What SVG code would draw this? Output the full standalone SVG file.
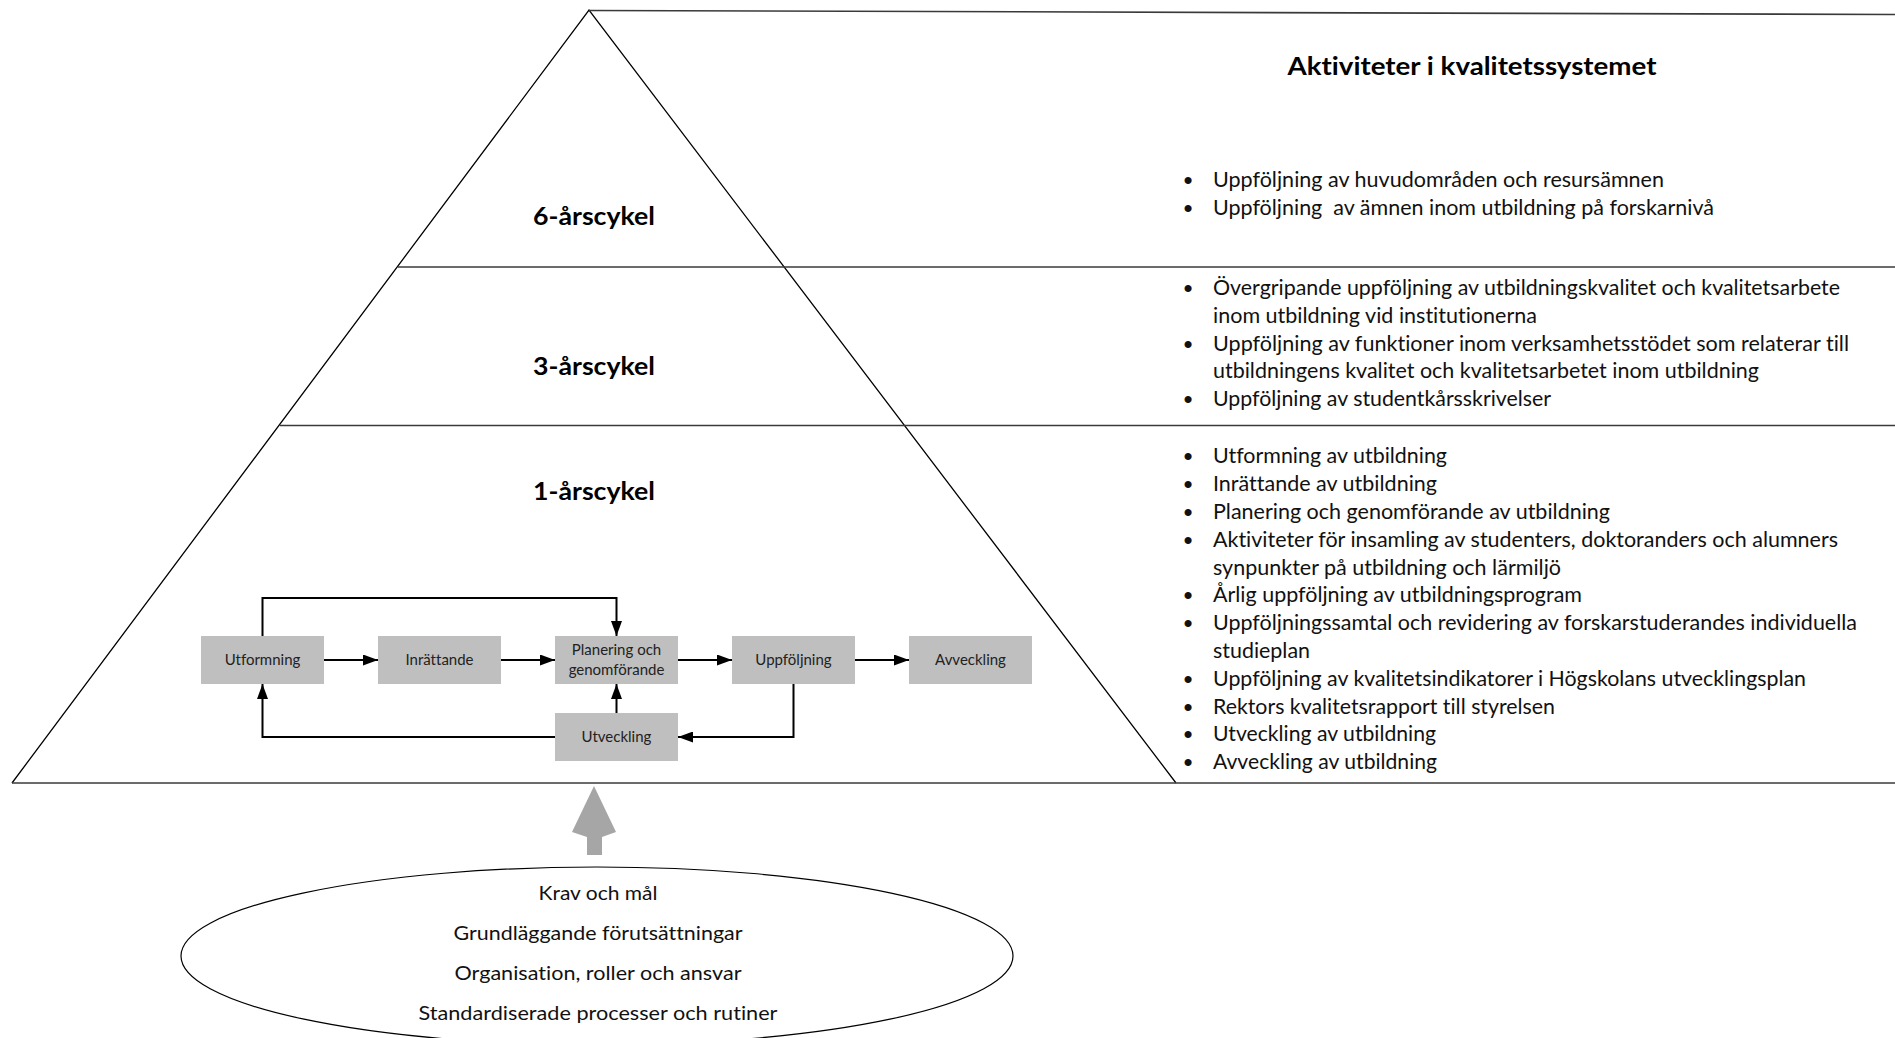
<svg xmlns="http://www.w3.org/2000/svg" width="1895" height="1038" viewBox="0 0 1895 1038">
<style>
  text { font-variant-ligatures: none; font-feature-settings: "liga" 0, "clig" 0; }
  .edge { fill: none; stroke: #000; stroke-width: 1.3; }
  .rule { fill: none; stroke: #3a3a3a; stroke-width: 1.6; }
  .lvl { font-family: Lato, "Liberation Sans", sans-serif; font-weight: bold; font-size: 25px; fill: #000; text-anchor: middle; }
  .li { font-family: Lato, "Liberation Sans", sans-serif; font-size: 20.5px; fill: #111; }
  .bul { font-family: "Liberation Sans", sans-serif; font-size: 26px; fill: #111; text-anchor: middle; }
  .box { fill: #bfbfbf; }
  .bl { font-family: Lato, "Liberation Sans", sans-serif; font-size: 15px; fill: #222; text-anchor: middle; }
  .conn { fill: none; stroke: #000; stroke-width: 2; }
  .ell { font-family: Lato, "Liberation Sans", sans-serif; font-size: 19px; fill: #111; text-anchor: middle; }
</style>
<defs>
  <marker id="ah" markerUnits="userSpaceOnUse" markerWidth="15" markerHeight="11" refX="15" refY="5.5" orient="auto">
    <path d="M0,0 L15,5.5 L0,11 z" fill="#000"/>
  </marker>
</defs>
<rect x="0" y="0" width="1895" height="1038" fill="#fff"/>

<g id="pyramid-frame">
  <polyline class="edge" points="12,783 589,10 1176,783"/>
  <line class="rule" x1="589" y1="10.5" x2="1895" y2="14.5"/>
  <line class="rule" x1="398" y1="267" x2="1895" y2="267"/>
  <line class="rule" x1="280" y1="425.5" x2="1895" y2="425.5"/>
  <line class="rule" x1="12" y1="783" x2="1895" y2="783"/>
</g>

<g id="title">
  <text class="lvl" x="1472" y="75" textLength="369" lengthAdjust="spacingAndGlyphs">Aktiviteter i kvalitetssystemet</text>
</g>

<g id="level-6">
  <text class="lvl" x="594" y="225" textLength="122" lengthAdjust="spacingAndGlyphs">6-årscykel</text>
  <text class="bul" x="1188" y="189">•</text>
  <text class="li" x="1213" y="187" textLength="451" lengthAdjust="spacingAndGlyphs">Uppföljning av huvudområden och resursämnen</text>
  <text class="bul" x="1188" y="217">•</text>
  <text class="li" x="1213" y="215" xml:space="preserve" textLength="501" lengthAdjust="spacingAndGlyphs">Uppföljning  av ämnen inom utbildning på forskarnivå</text>
</g>

<g id="level-3">
  <text class="lvl" x="594" y="375" textLength="122" lengthAdjust="spacingAndGlyphs">3-årscykel</text>
  <text class="bul" x="1188" y="297">•</text>
  <text class="li" x="1213" y="295" textLength="627" lengthAdjust="spacingAndGlyphs">Övergripande uppföljning av utbildningskvalitet och kvalitetsarbete</text>
  <text class="li" x="1213" y="322.8" textLength="324" lengthAdjust="spacingAndGlyphs">inom utbildning vid institutionerna</text>
  <text class="bul" x="1188" y="352.6">•</text>
  <text class="li" x="1213" y="350.6" textLength="636" lengthAdjust="spacingAndGlyphs">Uppföljning av funktioner inom verksamhetsstödet som relaterar till</text>
  <text class="li" x="1213" y="378.4" textLength="546" lengthAdjust="spacingAndGlyphs">utbildningens kvalitet och kvalitetsarbetet inom utbildning</text>
  <text class="bul" x="1188" y="408.2">•</text>
  <text class="li" x="1213" y="406.2" textLength="338" lengthAdjust="spacingAndGlyphs">Uppföljning av studentkårsskrivelser</text>
</g>

<g id="level-1">
  <text class="lvl" x="594" y="500" textLength="122" lengthAdjust="spacingAndGlyphs">1-årscykel</text>
  <text class="bul" x="1188" y="465.3">•</text>
  <text class="li" x="1213" y="463.3" textLength="234" lengthAdjust="spacingAndGlyphs">Utformning av utbildning</text>
  <text class="bul" x="1188" y="493.1">•</text>
  <text class="li" x="1213" y="491.1" textLength="224" lengthAdjust="spacingAndGlyphs">Inrättande av utbildning</text>
  <text class="bul" x="1188" y="520.9">•</text>
  <text class="li" x="1213" y="518.9" textLength="397" lengthAdjust="spacingAndGlyphs">Planering och genomförande av utbildning</text>
  <text class="bul" x="1188" y="548.7">•</text>
  <text class="li" x="1213" y="546.7" textLength="625" lengthAdjust="spacingAndGlyphs">Aktiviteter för insamling av studenters, doktoranders och alumners</text>
  <text class="li" x="1213" y="574.5" textLength="348" lengthAdjust="spacingAndGlyphs">synpunkter på utbildning och lärmiljö</text>
  <text class="bul" x="1188" y="604.3">•</text>
  <text class="li" x="1213" y="602.3" textLength="369" lengthAdjust="spacingAndGlyphs">Årlig uppföljning av utbildningsprogram</text>
  <text class="bul" x="1188" y="632.1">•</text>
  <text class="li" x="1213" y="630.1" textLength="644" lengthAdjust="spacingAndGlyphs">Uppföljningssamtal och revidering av forskarstuderandes individuella</text>
  <text class="li" x="1213" y="657.9" textLength="97" lengthAdjust="spacingAndGlyphs">studieplan</text>
  <text class="bul" x="1188" y="687.7">•</text>
  <text class="li" x="1213" y="685.7" textLength="593" lengthAdjust="spacingAndGlyphs">Uppföljning av kvalitetsindikatorer i Högskolans utvecklingsplan</text>
  <text class="bul" x="1188" y="715.5">•</text>
  <text class="li" x="1213" y="713.5" textLength="342" lengthAdjust="spacingAndGlyphs">Rektors kvalitetsrapport till styrelsen</text>
  <text class="bul" x="1188" y="743.3">•</text>
  <text class="li" x="1213" y="741.3" textLength="223" lengthAdjust="spacingAndGlyphs">Utveckling av utbildning</text>
  <text class="bul" x="1188" y="771.1">•</text>
  <text class="li" x="1213" y="769.1" textLength="224" lengthAdjust="spacingAndGlyphs">Avveckling av utbildning</text>
</g>

<g id="connectors">
  <line class="conn" x1="324" y1="660" x2="378" y2="660" marker-end="url(#ah)"/>
  <line class="conn" x1="501" y1="660" x2="555" y2="660" marker-end="url(#ah)"/>
  <line class="conn" x1="678" y1="660" x2="732" y2="660" marker-end="url(#ah)"/>
  <line class="conn" x1="855" y1="660" x2="909" y2="660" marker-end="url(#ah)"/>
  <path class="conn" d="M262.5,636 V598 H616.5 V636" marker-end="url(#ah)"/>
  <path class="conn" d="M616.5,713 V684" marker-end="url(#ah)"/>
  <path class="conn" d="M793.5,684 V737 H678" marker-end="url(#ah)"/>
  <path class="conn" d="M555,737 H262.5 V684" marker-end="url(#ah)"/>
</g>

<g id="node-utformning">
  <rect class="box" x="201" y="636" width="123" height="48"/>
  <text class="bl" x="262.5" y="665">Utformning</text>
</g>
<g id="node-inrattande">
  <rect class="box" x="378" y="636" width="123" height="48"/>
  <text class="bl" x="439.5" y="665">Inrättande</text>
</g>
<g id="node-planering">
  <rect class="box" x="555" y="636" width="123" height="48"/>
  <text class="bl" x="616.5" y="655">Planering och</text>
  <text class="bl" x="616.5" y="675">genomförande</text>
</g>
<g id="node-uppfoljning">
  <rect class="box" x="732" y="636" width="123" height="48"/>
  <text class="bl" x="793.5" y="665">Uppföljning</text>
</g>
<g id="node-avveckling">
  <rect class="box" x="909" y="636" width="123" height="48"/>
  <text class="bl" x="970.5" y="665">Avveckling</text>
</g>
<g id="node-utveckling">
  <rect class="box" x="555" y="713" width="123" height="48"/>
  <text class="bl" x="616.5" y="742">Utveckling</text>
</g>

<g id="up-arrow">
  <polygon points="594,786 616,832 602,837 602,855 587,855 587,837 572,832" fill="#a6a6a6"/>
</g>

<g id="foundation">
  <ellipse cx="597" cy="956" rx="416" ry="89" fill="#fff" stroke="#000" stroke-width="1.2"/>
  <text class="ell" x="598" y="900" textLength="119" lengthAdjust="spacingAndGlyphs">Krav och mål</text>
  <text class="ell" x="598" y="940" textLength="289" lengthAdjust="spacingAndGlyphs">Grundläggande förutsättningar</text>
  <text class="ell" x="598" y="980" textLength="287" lengthAdjust="spacingAndGlyphs">Organisation, roller och ansvar</text>
  <text class="ell" x="598" y="1020" textLength="359" lengthAdjust="spacingAndGlyphs">Standardiserade processer och rutiner</text>
</g>
</svg>
